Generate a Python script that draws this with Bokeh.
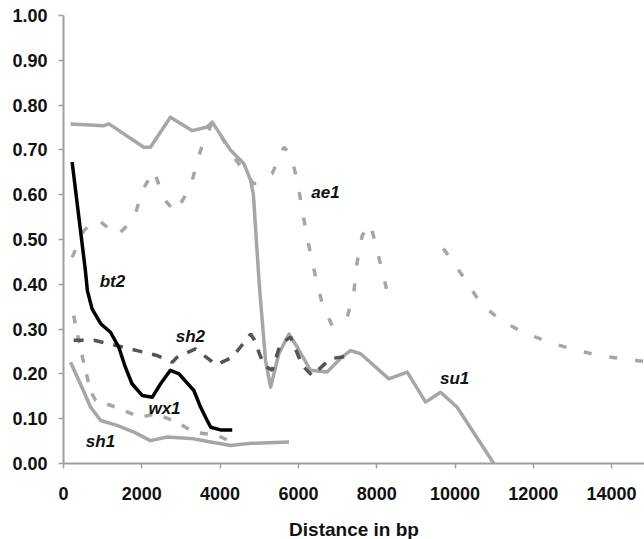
from bokeh.plotting import figure
from bokeh.models import FixedTicker, Range1d
from bokeh.core.properties import value
from bokeh.embed import file_html
from bokeh.resources import INLINE

nan = float("nan")

# ---- data ----
su1_x = [180, 1030, 1160, 2050, 2220, 2730, 3290, 3670, 3800, 4270, 4610, 4780, 4850, 5000, 5160, 5290, 5500, 5760, 5970, 6310, 6730, 7080, 7330, 7590, 8310, 8780, 9250, 9630, 10050, 10990]
su1_y = [0.758, 0.754, 0.758, 0.706, 0.706, 0.773, 0.743, 0.751, 0.762, 0.699, 0.669, 0.632, 0.600, 0.400, 0.230, 0.170, 0.245, 0.289, 0.260, 0.208, 0.204, 0.235, 0.252, 0.245, 0.189, 0.204, 0.137, 0.159, 0.126, 0.0]

ae1_x = [220, 520, 860, 1370, 1800, 2010, 2310, 2560, 2860, 3240, 3500, 3800, 4350, 4860, 5330, 5630, 5800, 5970, 6100, 6220, 6440, 6610, 6860, 7250, 7420, 7500, 7630, 7840, 8010, 8180, 8250, nan, 9700, 10220, 10650, 11120, 11720, 12400, 13120, 13840, 14570, 14840]
ae1_y = [0.46, 0.52, 0.546, 0.509, 0.546, 0.609, 0.654, 0.591, 0.561, 0.617, 0.699, 0.762, 0.684, 0.624, 0.647, 0.706, 0.691, 0.632, 0.565, 0.505, 0.416, 0.356, 0.308, 0.327, 0.386, 0.449, 0.509, 0.535, 0.475, 0.416, 0.39, nan, 0.48, 0.416, 0.358, 0.323, 0.293, 0.271, 0.252, 0.239, 0.23, 0.228]

sh2_x = [260, 780, 1370, 1880, 2390, 2780, 2900, 3370, 3900, 4310, 4780, 4860, 5120, 5330, 5540, 5800, 6100, 6350, 6820, 7370]
sh2_y = [0.275, 0.275, 0.263, 0.252, 0.241, 0.226, 0.237, 0.256, 0.220, 0.237, 0.289, 0.278, 0.219, 0.208, 0.267, 0.282, 0.219, 0.196, 0.234, 0.241]

bt2_x = [220, 560, 610, 730, 950, 1200, 1410, 1580, 1750, 2010, 2270, 2480, 2730, 2950, 3330, 3500, 3670, 3760, 4010, 4310]
bt2_y = [0.673, 0.43, 0.386, 0.345, 0.312, 0.293, 0.26, 0.215, 0.178, 0.152, 0.148, 0.178, 0.208, 0.2, 0.163, 0.126, 0.096, 0.081, 0.075, 0.075]

sh1_x = [180, 430, 690, 950, 1370, 1800, 2220, 2650, 3330, 3760, 4270, 4780, 5760]
sh1_y = [0.226, 0.178, 0.126, 0.096, 0.085, 0.07, 0.051, 0.059, 0.055, 0.048, 0.04, 0.045, 0.048]

wx1_x = [260, 400, 560, 700, 820, 1330, 1970, 2350, 2900, 3330, 3670, 3930, 4350]
wx1_y = [0.33, 0.27, 0.208, 0.16, 0.141, 0.126, 0.103, 0.111, 0.092, 0.07, 0.066, 0.0625, 0.046]

gene_names = ["ae1", "bt2", "sh2", "wx1", "sh1", "su1"]
label_x = [6690, 1250, 3240, 2580, 945, 9990]
label_y = [0.605, 0.406, 0.283, 0.123, 0.049, 0.190]

x_ticks = [0, 2000, 4000, 6000, 8000, 10000, 12000, 14000]
y_ticks = [0.0, 0.1, 0.2, 0.3, 0.4, 0.5, 0.6, 0.7, 0.8, 0.9, 1.0]

LIGHT = "#a6a6a6"
DARK = "#555555"
AXIS = "#a0a0a0"
FONT = "Liberation Sans"

p = figure(frame_width=581, frame_height=448, output_backend="svg", toolbar_location=None,
           x_range=Range1d(0, 14840), y_range=Range1d(0, 1.0),
           min_border_left=63, min_border_top=15, min_border_right=0, min_border_bottom=70)
p.outline_line_color = None
p.background_fill_color = "white"
p.border_fill_color = "white"

p.xgrid.visible = False
p.ygrid.ticker = FixedTicker(ticks=[1.0])
p.ygrid.grid_line_color = AXIS
p.ygrid.grid_line_width = 2

for ax in (p.xaxis[0], p.yaxis[0]):
    ax.axis_line_color = AXIS
    ax.axis_line_width = 2
    ax.major_tick_line_color = AXIS
    ax.major_tick_line_width = 1.5
    ax.major_tick_in = 0
    ax.major_tick_out = 5
    ax.minor_tick_line_color = None
    ax.major_label_text_font = FONT
    ax.major_label_text_font_style = "bold"
    ax.major_label_text_font_size = "18px"
    ax.major_label_text_color = "#111111"

p.xaxis.ticker = FixedTicker(ticks=x_ticks)
p.yaxis.ticker = FixedTicker(ticks=y_ticks)
p.yaxis.major_label_overrides = {t: f"{t:.2f}" for t in y_ticks}
p.xaxis.major_label_overrides = {t: str(t) for t in x_ticks}
p.yaxis.major_label_standoff = 11
p.xaxis.major_label_standoff = 18
p.xaxis.axis_label = "Distance in bp"
p.xaxis.axis_label_text_font = FONT
p.xaxis.axis_label_text_font_style = "bold"
p.xaxis.axis_label_text_font_size = "19px"
p.xaxis.axis_label_text_color = "#111111"
p.xaxis.axis_label_standoff = 16

W = 3.5
p.line(ae1_x, ae1_y, line_color=LIGHT, line_width=W, line_dash="8 18")
p.line(su1_x, su1_y, line_color=LIGHT, line_width=W, line_join="round")
p.line(sh1_x, sh1_y, line_color=LIGHT, line_width=W, line_join="round")
p.line(wx1_x, wx1_y, line_color=LIGHT, line_width=W, line_dash="8 12")
p.line(sh2_x, sh2_y, line_color=DARK, line_width=W, line_dash="10 10")
p.line(bt2_x, bt2_y, line_color="black", line_width=W, line_join="round")

p.text(x=label_x, y=label_y, text=gene_names, text_font=value(FONT), text_font_style="bold italic",
       text_font_size="17px", text_color="#111111", text_align="center", text_baseline="middle")

open("out.html", "w").write(file_html(p, INLINE))
